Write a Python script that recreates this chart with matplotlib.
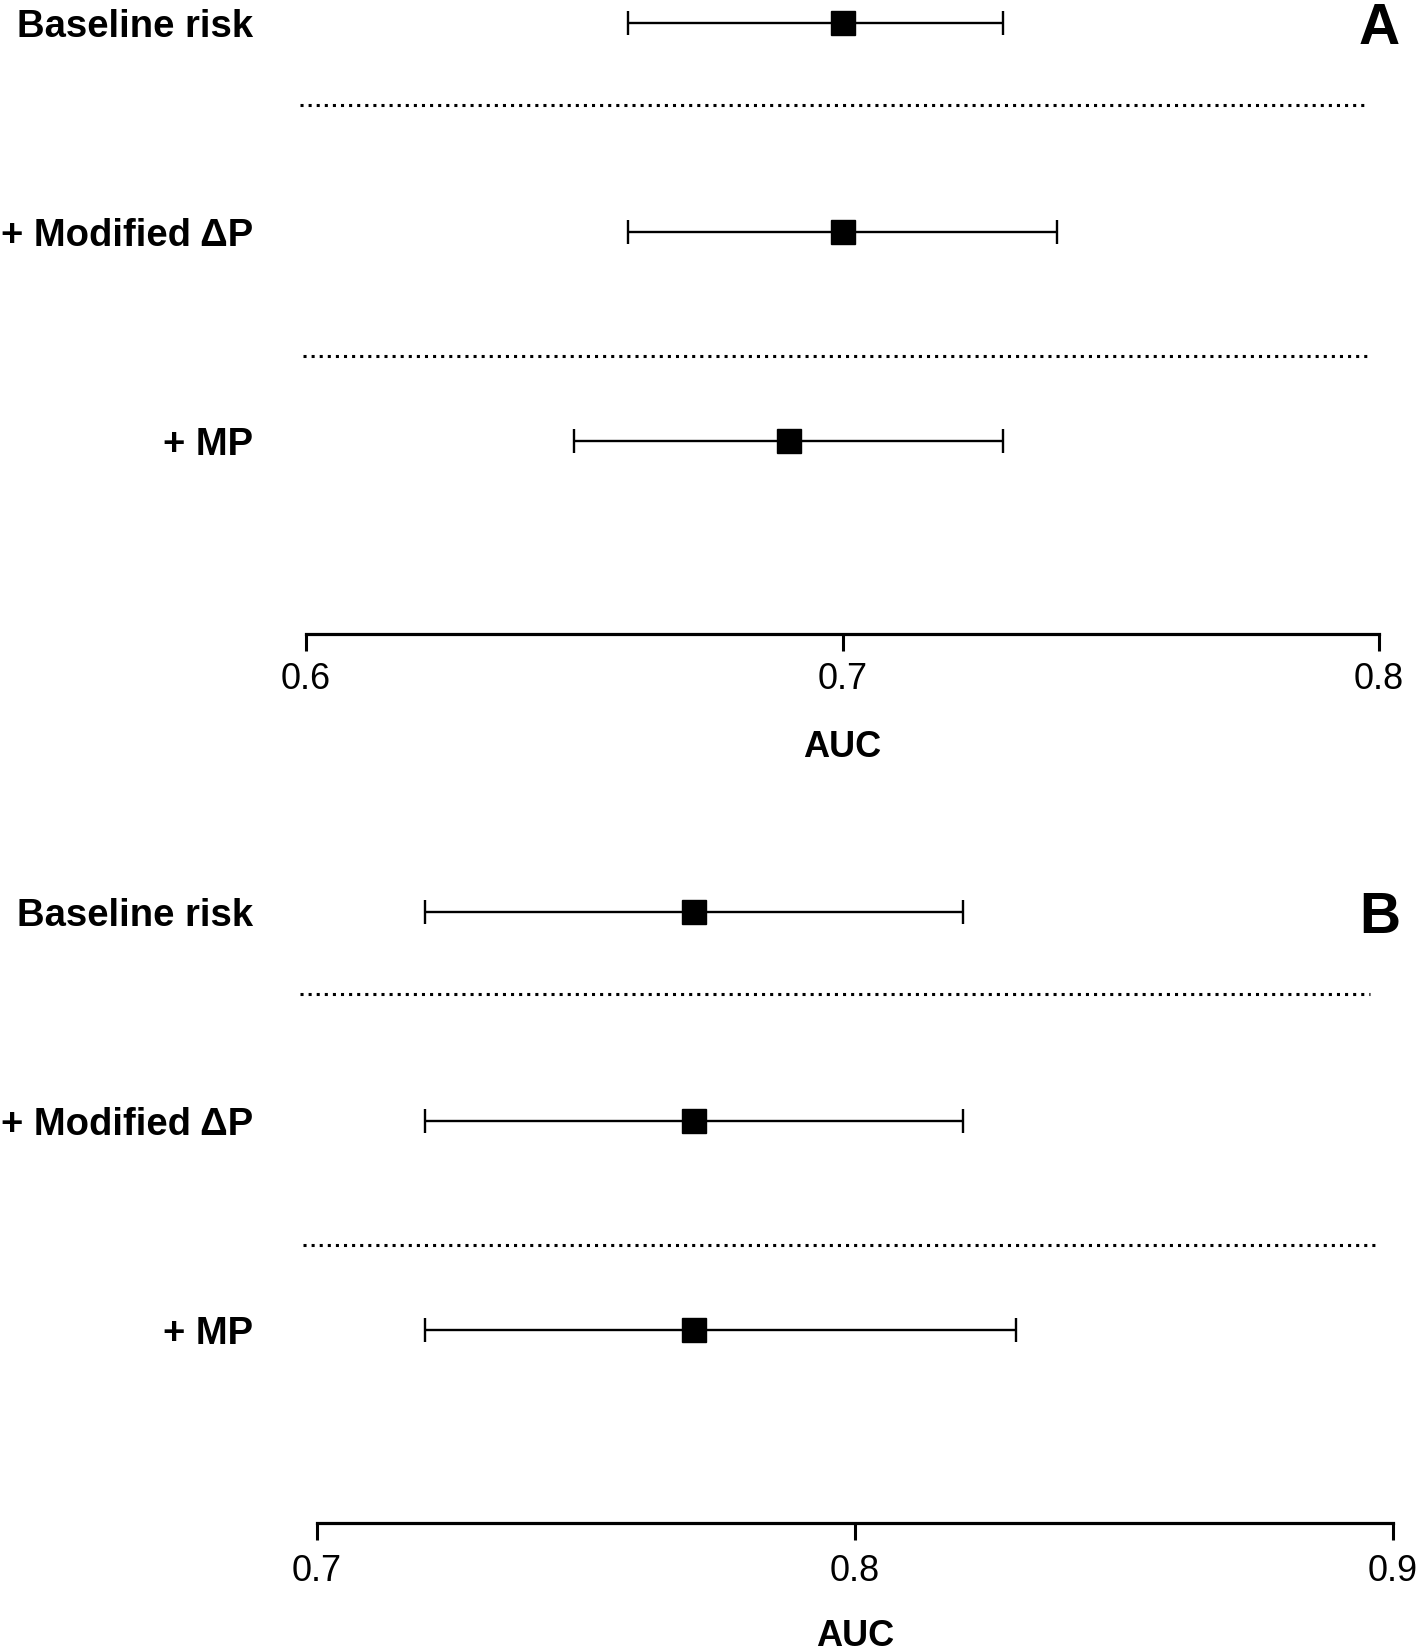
import matplotlib
matplotlib.use('Agg')
import matplotlib.pyplot as plt
import matplotlib.transforms as mtransforms

plt.rcParams['font.family'] = ['Liberation Sans', 'DejaVu Sans']

# 两个面板的数据
row_labels = ['Baseline risk', '+ Modified ΔP', '+ MP']

auc_a = [0.70, 0.70, 0.69]
lo_a = [0.66, 0.66, 0.65]
hi_a = [0.73, 0.74, 0.73]
ticks_a = [0.6, 0.7, 0.8]
ticklabels_a = ['0.6', '0.7', '0.8']

auc_b = [0.77, 0.77, 0.77]
lo_b = [0.72, 0.72, 0.72]
hi_b = [0.82, 0.82, 0.83]
ticks_b = [0.7, 0.8, 0.9]
ticklabels_b = ['0.7', '0.8', '0.9']

W, H = 1418, 1651
fig = plt.figure(figsize=(W / 100, H / 100), dpi=100)


def panel(rect, auc, lo, hi, ticks, ticklabels, letter, dots, pad, lpad):
    ax = fig.add_axes(rect)
    rows = list(range(len(auc)))
    xerr = [[a - l for a, l in zip(auc, lo)], [h - a for a, h in zip(auc, hi)]]
    ax.errorbar(auc, rows, xerr=xerr, fmt='s', color='black', ms=17,
                elinewidth=1.7, capsize=8.5, capthick=1.7, clip_on=False)
    ax.set_xlim(ticks[0], ticks[-1])
    ax.set_ylim(2.92, -0.11)
    span = ticks[-1] - ticks[0]
    # 分隔虚线
    for yy, (x0, x1) in zip([0.39, 1.59], dots):
        ax.plot([ticks[0] + x0 * span, ticks[0] + x1 * span], [yy, yy],
                color='black', lw=2.2, linestyle=(0, (1, 1.65)), clip_on=False)
    for s in ['top', 'right', 'left']:
        ax.spines[s].set_visible(False)
    ax.spines['bottom'].set_linewidth(2.3)
    ax.set_yticks([])
    ax.set_xticks(ticks)
    ax.set_xticklabels(ticklabels, fontsize=26)
    ax.tick_params(axis='x', direction='out', length=12, width=2.2, pad=pad)
    ax.set_xlabel('AUC', fontsize=26, fontweight='bold', labelpad=lpad)
    trans = mtransforms.blended_transform_factory(fig.transFigure, ax.transData)
    for i, lab in enumerate(row_labels):
        ax.text(253 / W, i + 0.065, lab, transform=trans, ha='right',
                va='baseline', fontsize=27.5, fontweight='bold')
    ax.text(1400 / W, 0.1, letter, transform=trans, ha='right', va='baseline',
            fontsize=41, fontweight='bold')
    return ax


panel([306 / W, (H - 634) / H, 1073 / W, 634 / H], auc_a, lo_a, hi_a,
      ticks_a, ticklabels_a, 'A', [(-0.0055, 0.987), (-0.0030, 0.990)], 8, 24)
panel([317 / W, (H - 1523) / H, 1076 / W, 634 / H], auc_b, lo_b, hi_b,
      ticks_b, ticklabels_b, 'B', [(-0.016, 0.979), (-0.013, 0.9835)], 10, 22)

fig.savefig('out.png', dpi=100)
